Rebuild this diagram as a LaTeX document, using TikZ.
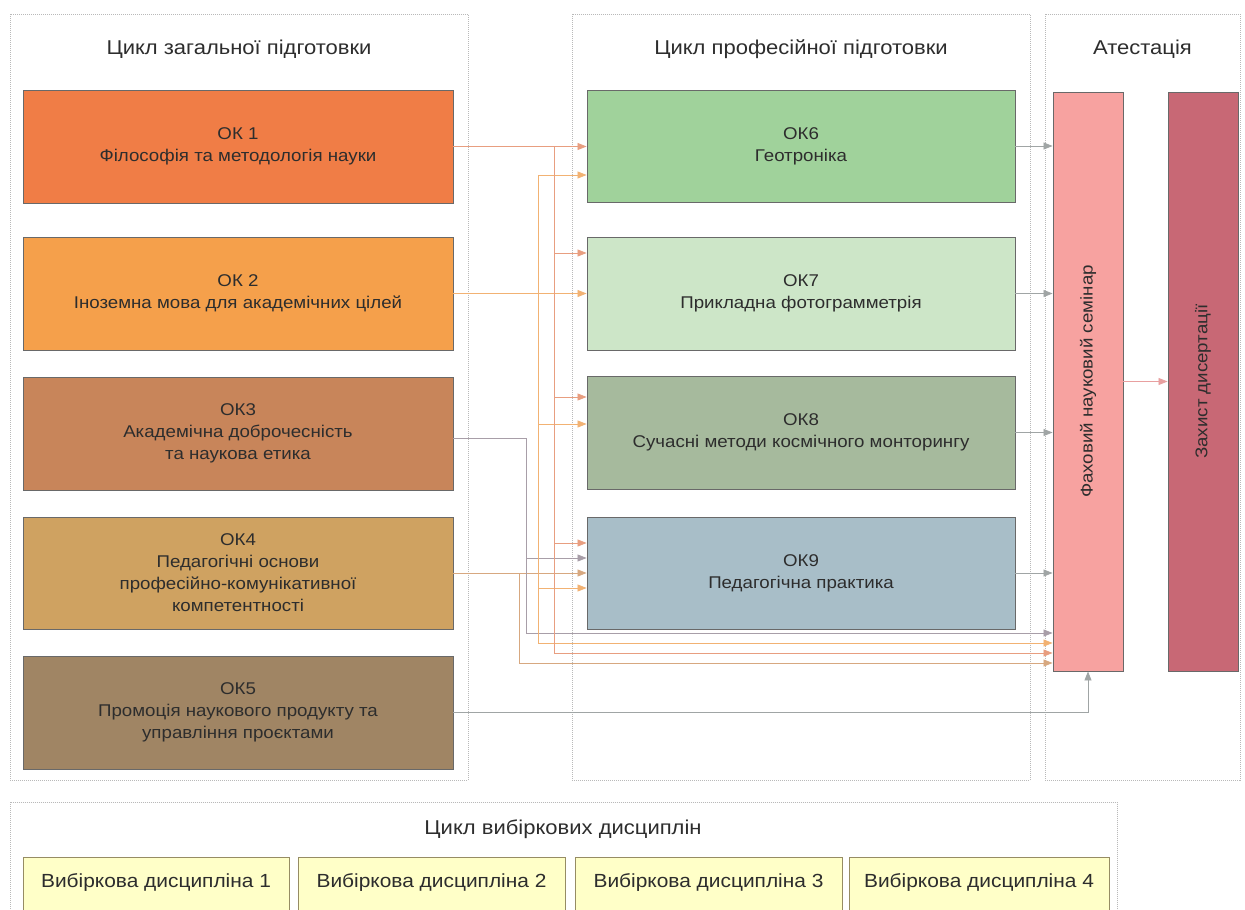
\documentclass[tikz,border=0pt]{standalone}
\usepackage{fontspec}
\setmainfont{Liberation Sans}[FakeStretch=1.1]
\usetikzlibrary{arrows.meta}
\definecolor{okA}{RGB}{240,125,70}
\definecolor{okB}{RGB}{245,160,75}
\definecolor{okC}{RGB}{200,133,90}
\definecolor{okD}{RGB}{207,162,97}
\definecolor{okE}{RGB}{160,133,100}
\definecolor{okF}{RGB}{160,210,155}
\definecolor{okG}{RGB}{205,230,200}
\definecolor{okH}{RGB}{166,186,157}
\definecolor{okI}{RGB}{168,190,200}
\definecolor{fahc}{RGB}{247,162,160}
\definecolor{zakc}{RGB}{200,104,117}
\definecolor{yelc}{RGB}{255,255,200}
\definecolor{yelb}{RGB}{150,140,100}
\definecolor{bordc}{RGB}{105,105,105}
\definecolor{txtc}{RGB}{45,45,45}
\definecolor{contc}{RGB}{185,185,185}
\definecolor{lnA}{RGB}{232,158,128}
\definecolor{lnB}{RGB}{242,178,115}
\definecolor{lnC}{RGB}{168,158,168}
\definecolor{lnD}{RGB}{215,168,128}
\definecolor{lnG}{RGB}{160,165,165}
\definecolor{lnF}{RGB}{232,160,160}
\begin{document}
\begin{tikzpicture}[x=1pt,y=-1pt,
  box/.style={draw=bordc,line width=0.9pt,align=center,text=txtc,inner sep=0pt,
    font=\fontsize{17}{22}\selectfont},
  lbox/.style={box,minimum width=430pt},
  mbox/.style={box,minimum width=428pt},
  vbox/.style={box,minimum width=70pt,minimum height=579pt},
  ybox/.style={draw=yelb,line width=0.9pt,fill=yelc,text=txtc,anchor=base,
    font=\fontsize{19}{23}\selectfont,text height=14pt,text depth=30pt,inner ysep=16pt,inner xsep=0pt},
  cont/.style={draw=contc,line width=0.8pt,dash pattern=on 1pt off 1pt},
  ttl/.style={text=txtc,font=\fontsize{20}{24}\selectfont,inner sep=0pt},
  arr/.style={-{Triangle[length=9pt,width=7pt]}},
  conn/.style={line width=0.8pt,arr}]
\clip (0,0) rectangle (1245,910);
\fill[white] (0,0) rectangle (1245,910);

% containers
\node[cont,minimum width=458pt,minimum height=766pt,inner sep=0pt] (c1) at (239,397) {};
\node[cont,minimum width=458pt,minimum height=766pt,inner sep=0pt] (c2) at (801,397) {};
\node[cont,minimum width=195pt,minimum height=766pt,inner sep=0pt] (c3) at (1142.5,397) {};
\node[cont,minimum width=1107pt,minimum height=140pt,inner sep=0pt,anchor=north west] (c4) at (10,802) {};

\node[ttl] (t1) at (239,49) {Цикл загальної підготовки};
\node[ttl] (t2) at (801,49) {Цикл професійної підготовки};
\node[ttl] (t3) at (1142.5,49) {Атестація};
\node[ttl] (t4) at (563,829) {Цикл вибіркових дисциплін};

% left column
\node[lbox,fill=okA,minimum height=113pt] (ok1) at (238,146.5) {ОК 1\\Філософія та методологія науки};
\node[lbox,fill=okB,minimum height=113pt] (ok2) at (238,293.5) {ОК 2\\Іноземна мова для академічних цілей};
\node[lbox,fill=okC,minimum height=113pt] (ok3) at (238,433.5) {ОК3\\Академічна доброчесність\\та наукова етика};
\node[lbox,fill=okD,minimum height=112pt] (ok4) at (238,573) {ОК4\\Педагогічні основи\\професійно-комунікативної\\компетентності};
\node[lbox,fill=okE,minimum height=113pt] (ok5) at (238,712.5) {ОК5\\Промоція наукового продукту та\\управління проєктами};

% middle column
\node[mbox,fill=okF,minimum height=112pt] (ok6) at (801,146) {ОК6\\Геотроніка};
\node[mbox,fill=okG,minimum height=113pt] (ok7) at (801,293.5) {ОК7\\Прикладна фотограмметрія};
\node[mbox,fill=okH,minimum height=113pt] (ok8) at (801,432.5) {ОК8\\Сучасні методи космічного монторингу};
\node[mbox,fill=okI,minimum height=112pt] (ok9) at (801,573) {ОК9\\Педагогічна практика};

% attestation
\node[vbox,fill=fahc] (fah) at (1088,381.5) {\rotatebox{90}{Фаховий науковий семінар}};
\node[vbox,fill=zakc] (zak) at (1203,381.5) {\rotatebox{90}{Захист дисертації}};

% elective boxes
\node[ybox,minimum width=266pt] (v1) at (156,887) {Вибіркова дисципліна 1};
\node[ybox,minimum width=267pt] (v2) at (431.5,887) {Вибіркова дисципліна 2};
\node[ybox,minimum width=267pt] (v3) at (708.5,887) {Вибіркова дисципліна 3};
\node[ybox,minimum width=260pt] (v4) at (979,887) {Вибіркова дисципліна 4};

% bus x positions and branch levels
\coordinate (b1) at (554,0);
\coordinate (b2) at (538,0);
\coordinate (b3) at (526,0);
\coordinate (b4) at (519,0);
\coordinate (l1b) at (0,253);
\coordinate (l1c) at (0,397);
\coordinate (l1d) at (0,543);
\coordinate (l1e) at (0,653);
\coordinate (l2a) at (0,175);
\coordinate (l2c) at (0,424);
\coordinate (l2d) at (0,588);
\coordinate (l2e) at (0,643);
\coordinate (l3s) at (0,438);
\coordinate (l3a) at (0,558);
\coordinate (l3b) at (0,633);
\coordinate (l4b) at (0,663);

% OK4
\draw[conn,lnD] (ok4.east) -- (ok4.east -| ok9.west);
\draw[conn,lnD] (ok4.east -| b4) |- (fah.west |- l4b);
% OK3
\draw[conn,lnC] (ok3.east |- l3s) -- (b3 |- l3s) |- (ok9.west |- l3a);
\draw[conn,lnC] (b3 |- l3s) |- (fah.west |- l3b);
% OK2
\draw[conn,lnB] (ok2.east) -- (ok2.east -| ok7.west);
\draw[conn,lnB] (ok2.east -| b2) |- (ok6.west |- l2a);
\draw[conn,lnB] (ok2.east -| b2) |- (ok8.west |- l2c);
\draw[conn,lnB] (ok2.east -| b2) |- (ok9.west |- l2d);
\draw[conn,lnB] (ok2.east -| b2) |- (fah.west |- l2e);
% OK1
\draw[conn,lnA] (ok1.east) -- (ok1.east -| ok6.west);
\draw[conn,lnA] (ok1.east -| b1) |- (ok7.west |- l1b);
\draw[conn,lnA] (ok1.east -| b1) |- (ok8.west |- l1c);
\draw[conn,lnA] (ok1.east -| b1) |- (ok9.west |- l1d);
\draw[conn,lnA] (ok1.east -| b1) |- (fah.west |- l1e);
% OK5
\draw[conn,lnG] (ok5.east) -| (fah.south);
% middle to seminar
\draw[conn,lnG] (ok6.east) -- (ok6.east -| fah.west);
\draw[conn,lnG] (ok7.east) -- (ok7.east -| fah.west);
\draw[conn,lnG] (ok8.east) -- (ok8.east -| fah.west);
\draw[conn,lnG] (ok9.east) -- (ok9.east -| fah.west);
% seminar to defence
\draw[conn,lnF] (fah.east) -- (zak.west);
\end{tikzpicture}
\end{document}
